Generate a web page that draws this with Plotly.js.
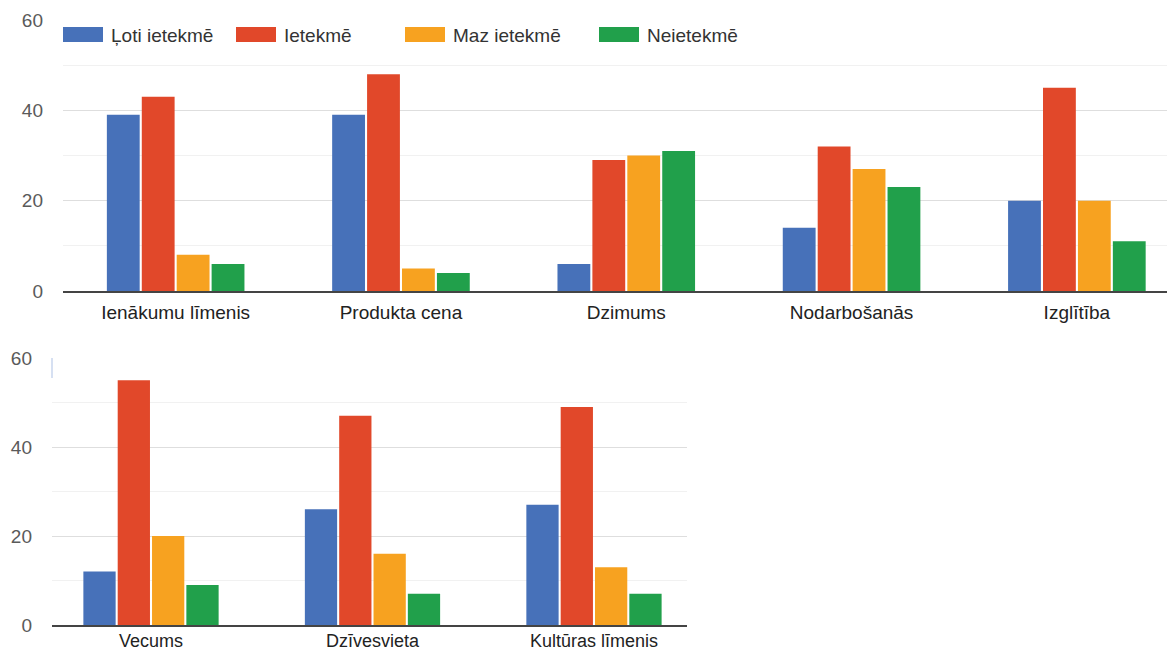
<!DOCTYPE html>
<html>
<head>
<meta charset="utf-8">
<script src="https://cdn.plot.ly/plotly-3.0.1.min.js"></script>
<style>html,body{margin:0;padding:0;background:#fff;}#chart{width:1167px;height:654px;}</style>
</head>
<body>
<div id="chart"></div>
<script>
// ---- Data ----
const seriesNames = ["Ļoti ietekmē", "Ietekmē", "Maz ietekmē", "Neietekmē"];
const seriesColors = ["#4771b9", "#e1482a", "#f7a220", "#21a04b"];

const topCategories = ["Ienākumu līmenis", "Produkta cena", "Dzimums", "Nodarbošanās", "Izglītība"];
const topLotiIetekme = [39, 39, 6, 14, 20];
const topIetekme     = [43, 48, 29, 32, 45];
const topMazIetekme  = [8, 5, 30, 27, 20];
const topNeietekme   = [6, 4, 31, 23, 11];

const bottomCategories = ["Vecums", "Dzīvesvieta", "Kultūras līmenis"];
const bottomLotiIetekme = [12, 26, 27];
const bottomIetekme     = [55, 47, 49];
const bottomMazIetekme  = [20, 16, 13];
const bottomNeietekme   = [9, 7, 7];

const yTicks = [0, 20, 40, 60];

// ---- Build traces ----
const W = 1167, H = 654;
const FONT = "Liberation Sans, Arial, sans-serif";
const topSeries = [topLotiIetekme, topIetekme, topMazIetekme, topNeietekme];
const bottomSeries = [bottomLotiIetekme, bottomIetekme, bottomMazIetekme, bottomNeietekme];
const traces = [];
topSeries.forEach((vals, i) => traces.push({
  type: "bar", x: topCategories, y: vals, name: seriesNames[i],
  marker: {color: seriesColors[i]}, xaxis: "x", yaxis: "y", showlegend: false
}));
bottomSeries.forEach((vals, i) => traces.push({
  type: "bar", x: bottomCategories, y: vals, name: seriesNames[i],
  marker: {color: seriesColors[i]}, xaxis: "x2", yaxis: "y2", showlegend: false
}));

const px = v => v / W;
const py = v => 1 - v / H;

const yAxisCommon = {
  range: [0, 60], tickvals: yTicks, ticktext: yTicks.map(String),
  showgrid: true, gridcolor: "#dedede", gridwidth: 1,
  minor: {dtick: 10, tick0: 0, showgrid: true, gridcolor: "#f1f1f1", gridwidth: 1},
  zeroline: false, showline: false, ticks: "", ticklabelstandoff: 19,
  tickfont: {family: FONT, size: 19, color: "#5a5a5a"},
  fixedrange: true
};
const xAxisCommon = {
  type: "category", showgrid: false, zeroline: false,
  showline: true, linecolor: "#444", linewidth: 2, ticks: "",
  tickfont: {family: FONT, size: 19, color: "#222"},
  fixedrange: true
};

// legend drawn as shapes + annotations
const legendSwatchX = [63, 236, 405, 599];
const shapes = [];
const annotations = [];
seriesNames.forEach((n, i) => {
  shapes.push({type: "rect", xref: "paper", yref: "paper",
    x0: px(legendSwatchX[i]), x1: px(legendSwatchX[i] + 40),
    y0: py(42), y1: py(27), fillcolor: seriesColors[i], line: {width: 0}});
  annotations.push({xref: "paper", yref: "paper", x: px(legendSwatchX[i] + 46), y: py(35),
    xanchor: "left", yanchor: "middle", text: n, showarrow: false,
    font: {family: FONT, size: 19, color: "#333"}});
});
// faint left edge line at top of lower panel
shapes.push({type: "line", xref: "paper", yref: "paper",
  x0: px(52), x1: px(52), y0: py(358), y1: py(378), line: {color: "#c9d6ee", width: 1.5}});

const layout = {
  width: W, height: H,
  margin: {l: 0, r: 0, t: 0, b: 0},
  paper_bgcolor: "#fff", plot_bgcolor: "rgba(0,0,0,0)",
  barmode: "group", bargap: 0.38, bargroupgap: 0.06,
  showlegend: false,
  xaxis: Object.assign({}, xAxisCommon, {domain: [px(63), 1], range: [-0.5, 4.40], anchor: "y", ticklabelstandoff: 3}),
  yaxis: Object.assign({}, yAxisCommon, {domain: [py(291), py(20)], anchor: "x"}),
  xaxis2: Object.assign({}, xAxisCommon, {domain: [px(52), px(687)], range: [-0.447, 2.42], anchor: "y2", ticklabelstandoff: -2,
    tickfont: {family: FONT, size: 18, color: "#222"}}),
  yaxis2: Object.assign({}, yAxisCommon, {domain: [py(625), py(358)], anchor: "x2"}),
  shapes: shapes,
  annotations: annotations
};

Plotly.newPlot("chart", traces, layout, {displayModeBar: false, staticPlot: true});
</script>
</body>
</html>
